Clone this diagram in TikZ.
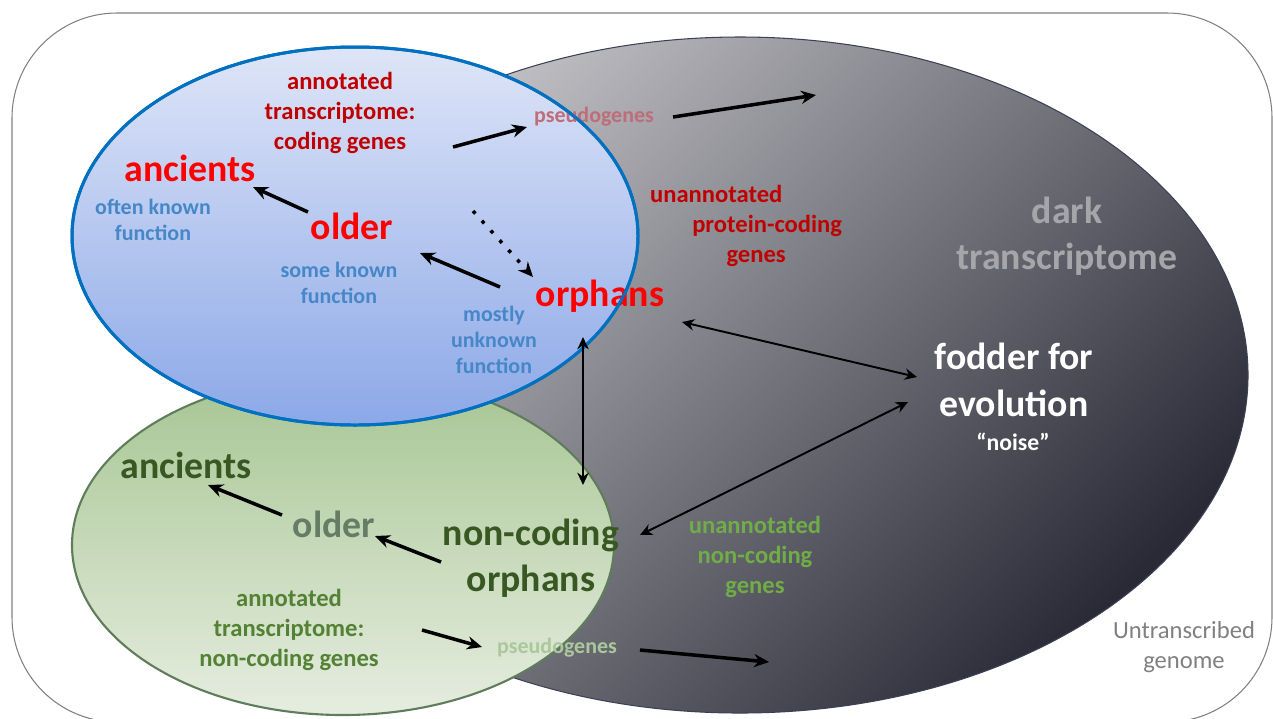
\documentclass[tikz,border=0pt]{standalone}
\usepackage{fontspec}
\setmainfont{Carlito}
\usetikzlibrary{arrows.meta}

\definecolor{codered}{RGB}{192,0,0}
\definecolor{agered}{RGB}{255,0,0}
\definecolor{fnblue}{RGB}{70,135,200}
\definecolor{rosegrey}{RGB}{190,110,120}
\definecolor{deepgreen}{RGB}{56,87,35}
\definecolor{olivegreen}{RGB}{84,130,53}
\definecolor{greygreen}{RGB}{100,125,100}
\definecolor{palegreen}{RGB}{170,200,155}
\definecolor{leafgreen}{RGB}{112,173,71}
\definecolor{textgrey}{RGB}{128,128,128}
\definecolor{fadegrey}{RGB}{165,165,170}
\definecolor{rimblue}{RGB}{0,112,192}
\definecolor{rimgreen}{RGB}{95,125,90}
\definecolor{rimdark}{RGB}{60,65,85}
\definecolor{darktop}{RGB}{198,198,202}
\definecolor{darkmid}{RGB}{118,118,128}
\definecolor{darkbot}{RGB}{42,42,55}
\definecolor{bluetop}{RGB}{222,229,247}
\definecolor{bluebot}{RGB}{140,168,232}
\definecolor{greentop}{RGB}{166,197,146}
\definecolor{greenbot}{RGB}{230,237,224}

\tikzset{
  lbl/.style={inner sep=1pt, align=center, font=\bfseries\fontsize{14}{17}\selectfont},
  big/.style={lbl, font=\bfseries\fontsize{21.5}{26.5}\selectfont},
  small/.style={lbl, font=\bfseries\fontsize{12.5}{14.7}\selectfont},
  arr/.style={line width=2pt, -{Stealth[length=8.5pt,width=7.5pt]}},
  dotarr/.style={arr, dash pattern=on 2pt off 5.5pt},
  link/.style={line width=1.1pt, {Stealth[length=7pt,width=6.5pt]}-{Stealth[length=7pt,width=6.5pt]}},
}

\begin{document}
\begin{tikzpicture}[x=0.02cm,y=-0.02cm]
  \useasboundingbox (0,0) rectangle (1273,718);
  \clip (0,0) rectangle (1273,718);

  % genome frame
  \draw[textgrey, line width=0.6pt, rounded corners=2.1cm] (12,13) rectangle (1272,722);

  % the three sets
  \draw[rimdark, line width=0.6pt, top color=darktop, middle color=darkmid, bottom color=darkbot, shading angle=45]
    (740,375) ellipse [x radius=508, y radius=338];
  \draw[rimgreen, line width=1.2pt, top color=greentop, bottom color=greenbot]
    (343,545) ellipse [x radius=271, y radius=170];
  \draw[rimblue, line width=1.7pt, top color=bluetop, bottom color=bluebot]
    (355,236) ellipse [x radius=283, y radius=189];

  % coding part
  \node[lbl, codered] (annotC) at (340,113) {annotated\\transcriptome:\\coding genes};
  \node[small, rosegrey] (pseuC) at (594,117) {pseudogenes};
  \node[big, agered] (ancC) at (190,168) {ancients};
  \node[small, fnblue] (oftenF) at (153,220) {often known\\function};
  \node[big, agered] (olderC) at (352,226) {older};
  \node[small, fnblue] (someF) at (339,283) {some known\\function};
  \node[small, fnblue] (mostlyF) at (494,340) {mostly\\unknown\\function};
  \node[big, agered] (orphC) at (600,296) {orphans};
  \draw[rimblue, line width=1.7pt] (355,236) ellipse [x radius=283, y radius=189];

  % dark part
  \node[lbl, codered, anchor=west, align=left] (unannP) at (648,226)
    {unannotated\\\hspace*{24pt}protein-coding\\\hspace*{43.5pt}genes};
  \node[big, fadegrey] (darkT) at (1067,236) {dark\\transcriptome};
  \node[big, white] (fodder) at (1014,380) {fodder for\\evolution};
  \node[lbl, white, font=\bfseries\fontsize{13.5}{16}\selectfont] (noise) at (1013,442) {“noise”};
  \node[lbl, leafgreen] (unannNC) at (755,557) {unannotated\\non-coding\\genes};
  \node[lbl, textgrey, font=\fontsize{14}{17}\selectfont] (untrans) at (1184,647) {Untranscribed\\genome};

  % non-coding part
  \node[big, deepgreen] (ancG) at (186,465) {ancients};
  \node[big, greygreen] (olderG) at (334,524) {older};
  \node[big, deepgreen] (ncOrph) at (531,558) {non-coding\\orphans};
  \node[lbl, olivegreen] (annotG) at (289,630) {annotated\\transcriptome:\\non-coding genes};
  \node[small, palegreen] (pseuG) at (557,648) {pseudogenes};

  \coordinate (pcEnd) at (816,95);
  \coordinate (ncEnd) at (769,662);

  % arrows
  \draw[arr] ([shift={(113,34)}]annotC.center) -- ([shift={(-67,10)}]pseuC.center);
  \draw[arr] ([shift={(79,0)}]pseuC.center) -- (pcEnd);
  \draw[arr] ([shift={(-44,-14)}]olderC.center) -- ([shift={(63,19)}]ancC.center);
  \draw[arr] ([shift={(-100,-9)}]orphC.center) -- ([shift={(68,27)}]olderC.center);
  \draw[dotarr] ([shift={(133,98)}]annotC.center) -- ([shift={(-67,-19)}]orphC.center);
  \draw[link] ([shift={(-17,41)}]orphC.center) -- ([shift={(52,-73)}]ncOrph.center);
  \draw[link] ([shift={(82,26)}]orphC.center) -- ([shift={(-97,-3)}]fodder.center);
  \draw[link] ([shift={(109,-23)}]ncOrph.center) -- ([shift={(-106,22)}]fodder.center);
  \draw[arr] ([shift={(-52,-9)}]olderG.center) -- ([shift={(22,20)}]ancG.center);
  \draw[arr] ([shift={(-90,4)}]ncOrph.center) -- ([shift={(41,12)}]olderG.center);
  \draw[arr] ([shift={(133,0)}]annotG.center) -- ([shift={(-75,-1)}]pseuG.center);
  \draw[arr] ([shift={(83,2)}]pseuG.center) -- (ncEnd);
\end{tikzpicture}
\end{document}
